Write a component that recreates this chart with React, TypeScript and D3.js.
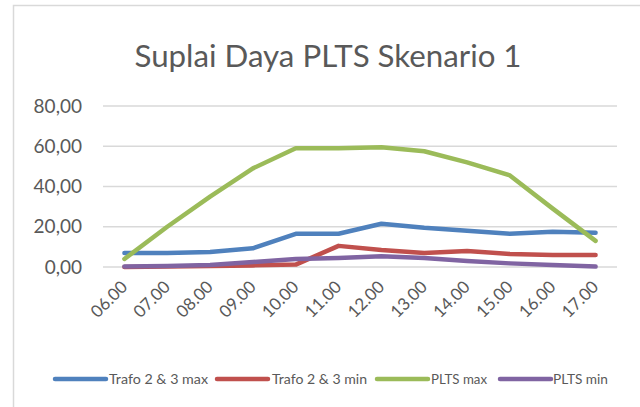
import React from 'react';
import * as d3 from 'd3';

// --- data ---
const hours = ['06.00', '07.00', '08.00', '09.00', '10.00', '11.00', '12.00', '13.00', '14.00', '15.00', '16.00', '17.00'];
const trafoMax = [7, 7, 7.5, 9.3, 16.5, 16.5, 21.5, 19.5, 18, 16.5, 17.5, 17];
const trafoMin = [0, 0.3, 0.5, 0.8, 1.2, 10.5, 8.5, 7, 8, 6.5, 6, 6];
const pltsMax = [4, 20, 35, 49, 59, 59, 59.5, 57.5, 52, 45.5, 29, 13];
const pltsMin = [0.3, 0.5, 1, 2.5, 4, 4.5, 5.3, 4.5, 3, 1.8, 1, 0.2];
const yTicks = [0, 20, 40, 60, 80];

const series = [
    { name: 'Trafo 2 & 3 max', values: trafoMax, color: '#4f81bd' },
    { name: 'Trafo 2 & 3 min', values: trafoMin, color: '#c0504d' },
    { name: 'PLTS max', values: pltsMax, color: '#9bbb59' },
    { name: 'PLTS min', values: pltsMin, color: '#8064a2' },
];

const W = 640;
const H = 407;
const FONT = 'Lato, "Open Sans", sans-serif';
const TEXT = '#595959';

export default function App() {
    const x = d3.scalePoint<string>().domain(hours).range([103, 617]).padding(0.5);
    const y = d3.scaleLinear().domain([0, 80]).range([267, 106]);

    const line = d3.line<number>()
        .x((_, i) => x(hours[i]) as number)
        .y(d => y(d));

    // legend layout (line start, text start)
    const legend = [
        { lx: 55, tx: 109, tw: 99 },
        { lx: 217, tx: 272, tw: 95 },
        { lx: 377, tx: 431, tw: 56 },
        { lx: 500, tx: 553, tw: 55 },
    ];

    return (
        <div style={{ position: 'fixed', left: 0, top: 0, width: W, height: H, background: '#fff' }}>
            <svg width={W} height={H} style={{ display: 'block' }}>
                <rect x={0} y={0} width={W} height={H} fill="#fff" />
                {/* chart frame */}
                <rect x={13.5} y={5.5} width={700} height={500} fill="#fff" stroke="#d9d9d9" strokeWidth={1.5} />

                <text x={328} y={67} textAnchor="middle" fontFamily={FONT} fontSize={30} fill={TEXT}
                    textLength={387} lengthAdjust="spacingAndGlyphs">
                    Suplai Daya PLTS Skenario 1
                </text>

                {/* grid + y labels */}
                {yTicks.map(t => (
                    <g key={t}>
                        <line x1={103} x2={617} y1={y(t)} y2={y(t)} stroke="#d9d9d9" strokeWidth={1.5} />
                        <text x={82} y={y(t)} dy="0.35em" textAnchor="end" fontFamily={FONT} fontSize={19} fill={TEXT}>
                            {d3.format('.2f')(t).replace('.', ',')}
                        </text>
                    </g>
                ))}

                {/* x labels */}
                {hours.map(h => (
                    <text key={h} transform={`translate(${(x(h) as number) + 4},${288}) rotate(-45)`}
                        textAnchor="end" fontFamily={FONT} fontSize={17} fill={TEXT}>
                        {h}
                    </text>
                ))}

                {/* series lines */}
                {series.map(s => (
                    <path key={s.name} d={line(s.values) || ''} fill="none" stroke={s.color}
                        strokeWidth={4.5} strokeLinejoin="round" strokeLinecap="round" />
                ))}

                {/* legend */}
                {series.map((s, i) => (
                    <g key={s.name}>
                        <line x1={legend[i].lx} x2={legend[i].lx + 51} y1={379} y2={379}
                            stroke={s.color} strokeWidth={4.5} strokeLinecap="round" />
                        <text x={legend[i].tx} y={379} dy="0.35em" fontFamily={FONT} fontSize={14} fill={TEXT}
                            textLength={legend[i].tw} lengthAdjust="spacingAndGlyphs">
                            {s.name}
                        </text>
                    </g>
                ))}
            </svg>
        </div>
    );
}
